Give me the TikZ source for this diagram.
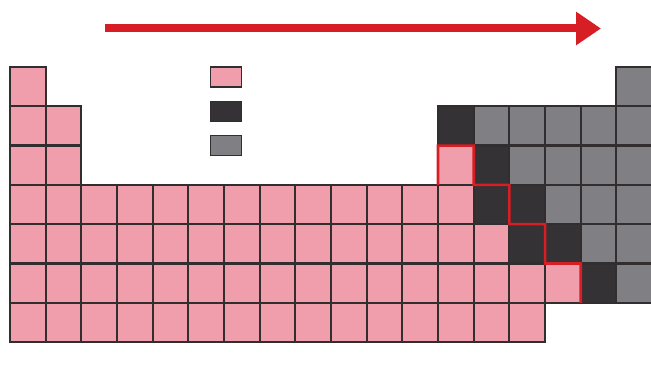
\documentclass[tikz,border=0pt]{standalone}
\usetikzlibrary{arrows.meta}
\definecolor{metalpink}{RGB}{240,158,172}
\definecolor{metaloid}{RGB}{52,50,52}
\definecolor{nonmetal}{RGB}{128,128,132}
\definecolor{edgegray}{RGB}{50,45,46}
\definecolor{linered}{RGB}{214,30,36}
\tikzset{
  cell/.style={draw=edgegray, line width=2.2pt, minimum width=35.67pt, minimum height=39.3pt, inner sep=0pt, outer sep=0pt},
  legendbox/.style={draw=edgegray, line width=1.6pt, minimum width=31pt, minimum height=20pt, inner sep=0pt, outer sep=0pt},
  border/.style={linered, line width=2.6pt, line join=miter},
  trend/.style={linered, line width=8pt, -{Triangle[length=25pt,width=32pt]}}
}
\begin{document}
\begin{tikzpicture}[x=1pt,y=-1pt]
\useasboundingbox (0,0) rectangle (651,366);
% metals
\foreach \r/\a/\b in {1/1/1, 2/1/2, 3/1/2, 3/13/13, 4/1/13, 5/1/14, 6/1/16, 7/1/15}
  \foreach \c in {\a,...,\b}
    \node[cell, fill=metalpink] (c-\r-\c) at ({10+(\c-0.5)*35.67},{67+(\r-0.5)*39.3}) {};
% metalloids
\foreach \r/\c in {2/13, 3/14, 4/14, 4/15, 5/15, 5/16, 6/17}
  \node[cell, fill=metaloid] (c-\r-\c) at ({10+(\c-0.5)*35.67},{67+(\r-0.5)*39.3}) {};
% nonmetals
\foreach \r/\a/\b in {1/18/18, 2/14/18, 3/15/18, 4/16/18, 5/17/18, 6/18/18}
  \foreach \c in {\a,...,\b}
    \node[cell, fill=nonmetal] (c-\r-\c) at ({10+(\c-0.5)*35.67},{67+(\r-0.5)*39.3}) {};
% legend
\node[legendbox, fill=metalpink] (lg1) at (226,77) {};
\node[legendbox, fill=metaloid] (lg2) at (226,111.5) {};
\node[legendbox, fill=nonmetal] (lg3) at (226,145.5) {};
% staircase
\draw[border] (c-3-13.south west) -- (c-3-13.north west) -- (c-3-13.north east)
  -- (c-3-13.south east) -- (c-4-14.north east) -- (c-4-14.south east)
  -- (c-5-15.north east) -- (c-5-15.south east) -- (c-6-16.north east)
  -- (c-6-16.south east);
% arrow
\coordinate (as) at (105,28.5);
\coordinate (ae) at (601,28.5);
\draw[trend] (as) -- (ae);
\end{tikzpicture}
\end{document}
